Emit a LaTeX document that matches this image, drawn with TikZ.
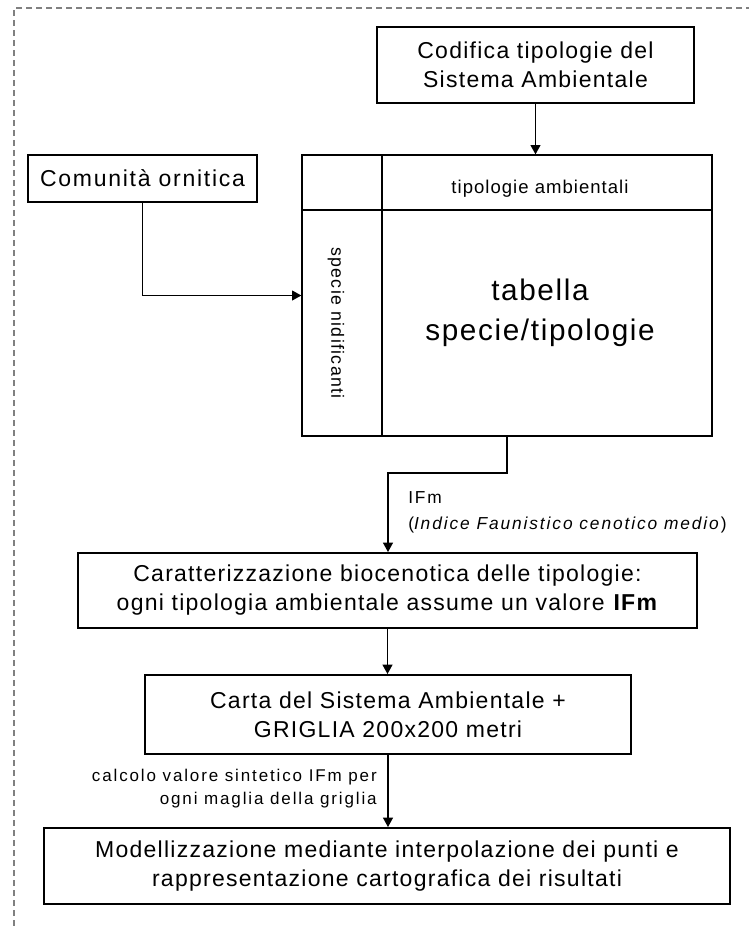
\documentclass[tikz,border=0pt]{standalone}
\usepackage{fontspec}
\setmainfont{Liberation Sans}
\newfontfamily\largo[LetterSpace=5.5]{Liberation Sans}
\newfontfamily\largob[LetterSpace=7.5]{Liberation Sans}
\newfontfamily\largoc[LetterSpace=11]{Liberation Sans}
\usetikzlibrary{positioning,arrows.meta}

\tikzset{
  blocco/.style={draw,line width=1.5pt,inner sep=0pt,align=center,
    font=\largo\fontsize{17.25}{21.75}\selectfont},
  freccia/.style={draw,line width=0.8pt,-{Triangle[length=7pt,width=7.5pt]}},
  griglia/.style={line width=1pt},
}

\begin{document}
\begin{tikzpicture}[x=0.75pt,y=-0.75pt]
  \useasboundingbox (0,0) rectangle (749,926);
  % bordo tratteggiato
  \draw[gray,line width=1.2pt,dash pattern=on 4.5pt off 3pt] (14,926) -- (14,8) -- (749,8);

  \node[blocco,minimum width=237.75pt,minimum height=57pt] (cod) at (535.5,65)
    {Codifica tipologie del\\Sistema Ambientale};
  \node[blocco,font=\largob\fontsize{17.25}{21.75}\selectfont,
    minimum width=171.75pt,minimum height=35.25pt] (com) at (142.5,178.5)
    {Comunità ornitica};

  % tabella
  \node[draw,griglia,minimum width=307.5pt,minimum height=210.75pt] (tab) at (507,295.5) {};
  \coordinate (vx) at (382,0);
  \coordinate (hy) at (0,210);
  \draw[griglia] (vx |- tab.north) -- (vx |- tab.south);
  \draw[griglia] (tab.west |- hy) -- (tab.east |- hy);
  \node[font=\largo\fontsize{13.9}{16}\selectfont,anchor=base,inner sep=0pt] (tip) at (540,193)
    {tipologie ambientali};
  \node[font=\largob\fontsize{13.3}{16}\selectfont,rotate=-90,inner sep=0pt] (spe) at (336,323)
    {specie nidificanti};
  \node[align=center,inner sep=0pt,font=\largo\fontsize{22.3}{30}\selectfont] (tsp) at (540,312.5)
    {tabella\\specie/tipologie};

  \node[blocco,minimum width=464.25pt,minimum height=56.25pt] (car) at (387.5,590.5)
    {Caratterizzazione biocenotica delle tipologie:\\ogni tipologia ambientale assume un valore \textbf{IFm}};
  \node[blocco,minimum width=364.5pt,minimum height=59.25pt] (cgr) at (388,714.5)
    {Carta del Sistema Ambientale +\\GRIGLIA 200x200 metri};
  \node[blocco,minimum width=514.5pt,minimum height=57pt] (mod) at (387,866)
    {Modellizzazione mediante interpolazione dei punti e\\rappresentazione cartografica dei risultati};

  % frecce
  \draw[freccia] (cod.south) -- (cod.south |- tab.north);
  \draw[freccia] (com.south) |- (tab.west);
  \coordinate (k1) at (388,473);
  \draw[freccia] (tab.south) |- (k1) -- (k1 |- car.north);
  \draw[freccia] (car.south) -- (car.south |- cgr.north);
  \draw[freccia] (cgr.south) -- (cgr.south |- mod.north);

  % etichette
  \node[align=left,anchor=west,inner sep=0pt,font=\largoc\fontsize{13}{19.5}\selectfont] (ifm) at (408,512.5)
    {IFm\\(\textit{Indice Faunistico cenotico medio})};
  \node[align=right,anchor=east,inner sep=0pt,font=\largoc\fontsize{12.75}{17.25}\selectfont] (cal) at (377,789)
    {calcolo valore sintetico IFm per\\ogni maglia della griglia};
\end{tikzpicture}
\end{document}
